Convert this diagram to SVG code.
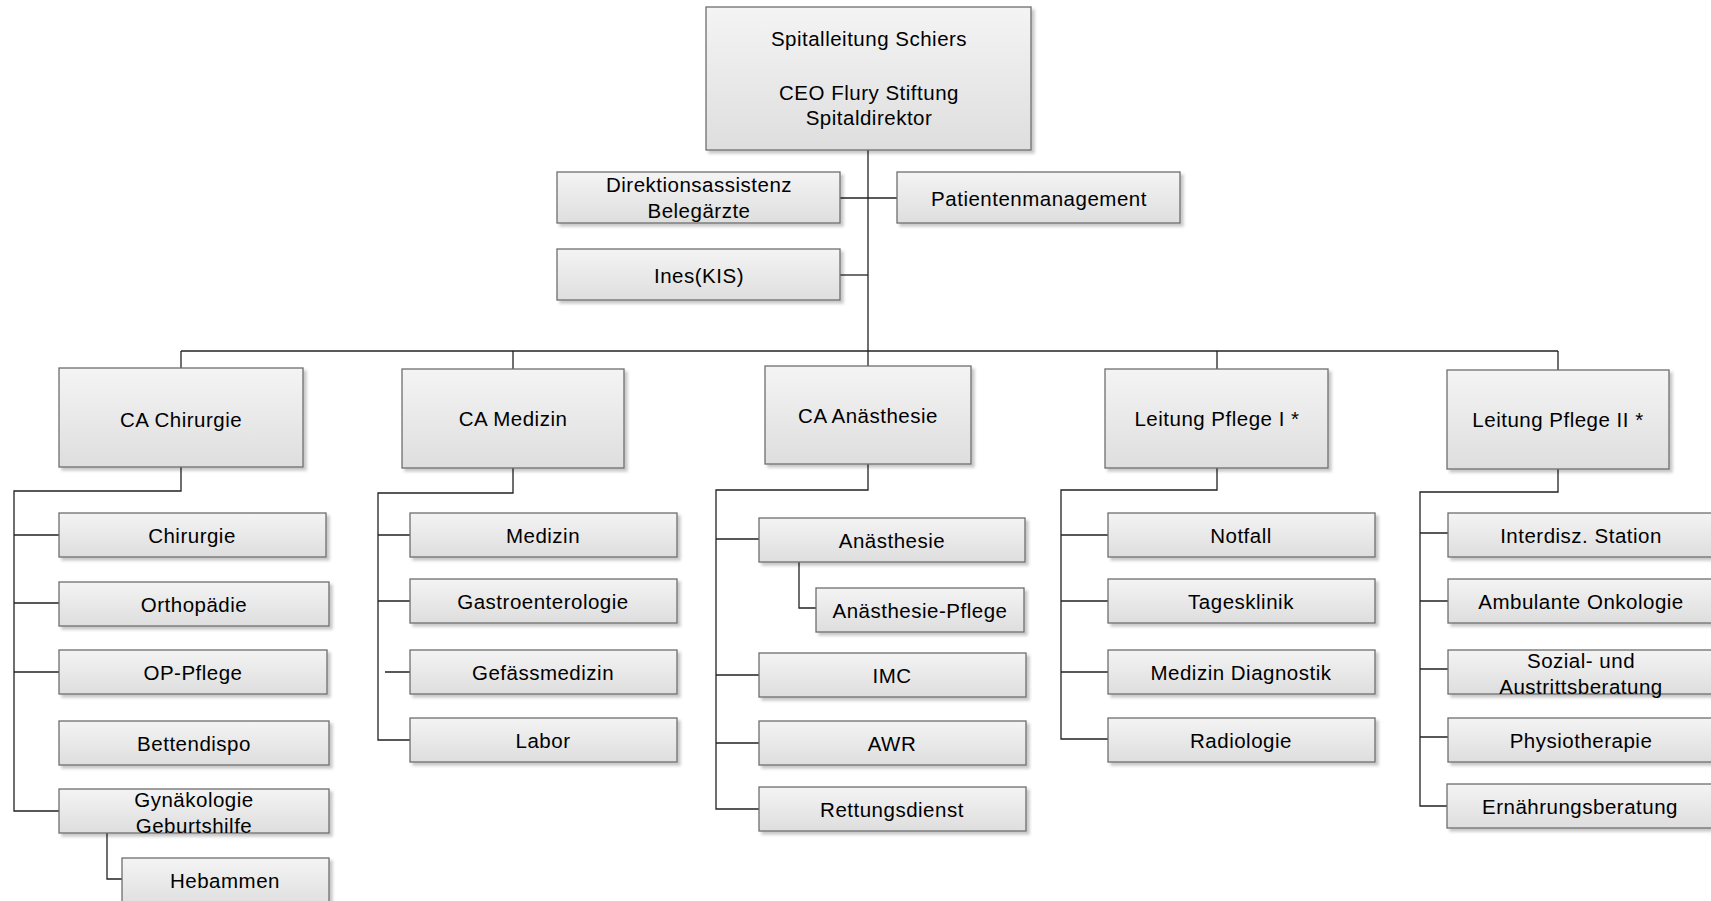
<svg xmlns="http://www.w3.org/2000/svg" width="1711" height="901" viewBox="0 0 1711 901">
<defs>
<linearGradient id="g" x1="0" y1="0" x2="0" y2="1">
<stop offset="0" stop-color="#f4f4f4"/>
<stop offset="1" stop-color="#dedede"/>
</linearGradient>
<filter id="sh" x="-5%" y="-5%" width="115%" height="130%">
<feDropShadow dx="3" dy="3" stdDeviation="1.5" flood-color="#000" flood-opacity="0.22"/>
</filter>
</defs>
<style>
.b rect{fill:url(#g);stroke:#6e6e6e;stroke-width:1.3;filter:url(#sh)}
.b text{font-family:"Liberation Sans",Arial,sans-serif;font-size:20.5px;letter-spacing:0.5px;fill:#000;text-anchor:middle;dominant-baseline:central}
#connectors path{fill:none;stroke:#222;stroke-width:1.3}
</style>
<rect width="1711" height="901" fill="#fff"/>
<g id="connectors">
<path d="M868,150 V366"/>
<path d="M840,198 H897"/>
<path d="M840,275 H868"/>
<path d="M181,351 H1558"/>
<path d="M181,351 V368"/>
<path d="M513,351 V369"/>
<path d="M1217,351 V369"/>
<path d="M1558,351 V370"/>
<path d="M181,467 V491 H14 V811 H59"/>
<path d="M14,535 H59 M14,603 H59 M14,672 H59"/>
<path d="M107,833 V879 H122"/>
<path d="M513,468 V493 H378 V740 H410"/>
<path d="M378,535 H410 M378,601 H410 M385,672 H410"/>
<path d="M868,464 V490 H716 V809 H759"/>
<path d="M716,539 H759 M716,675 H759 M716,743 H759"/>
<path d="M799,562 V608 H816"/>
<path d="M1217,468 V490 H1061 V739 H1108"/>
<path d="M1061,535 H1108 M1061,601 H1108 M1061,672 H1108"/>
<path d="M1558,469 V492 H1420 V806 H1447"/>
<path d="M1420,533 H1448 M1420,601 H1448 M1420,669 H1448 M1420,737 H1448"/>
</g>
<g id="n-top" class="b"><rect x="706" y="7" width="325" height="143"/><text x="869" y="38">Spitalleitung Schiers</text><text x="869" y="92">CEO Flury Stiftung</text><text x="869" y="117">Spitaldirektor</text></g>
<g id="n-direktion" class="b"><rect x="557" y="172" width="283" height="51"/><text x="699" y="184">Direktionsassistenz</text><text x="699" y="210">Belegärzte</text></g>
<g id="n-patienten" class="b"><rect x="897" y="172" width="283" height="51"/><text x="1039" y="198">Patientenmanagement</text></g>
<g id="n-ines" class="b"><rect x="557" y="249" width="283" height="51"/><text x="699" y="275">Ines(KIS)</text></g>
<g id="n-ca-chir" class="b"><rect x="59" y="368" width="244" height="99"/><text x="181" y="419">CA Chirurgie</text></g>
<g id="n-ca-med" class="b"><rect x="402" y="369" width="222" height="99"/><text x="513" y="418">CA Medizin</text></g>
<g id="n-ca-anae" class="b"><rect x="765" y="366" width="206" height="98"/><text x="868" y="415">CA Anästhesie</text></g>
<g id="n-pflege1" class="b"><rect x="1105" y="369" width="223" height="99"/><text x="1217" y="418">Leitung Pflege I *</text></g>
<g id="n-pflege2" class="b"><rect x="1447" y="370" width="222" height="99"/><text x="1558" y="419">Leitung Pflege II *</text></g>
<g id="n-chirurgie" class="b"><rect x="59" y="513" width="267" height="44"/><text x="192" y="535">Chirurgie</text></g>
<g id="n-ortho" class="b"><rect x="59" y="582" width="270" height="44"/><text x="194" y="604">Orthopädie</text></g>
<g id="n-op" class="b"><rect x="59" y="650" width="268" height="44"/><text x="193" y="672">OP-Pflege</text></g>
<g id="n-betten" class="b"><rect x="59" y="721" width="270" height="44"/><text x="194" y="743">Bettendispo</text></g>
<g id="n-gyn" class="b"><rect x="59" y="789" width="270" height="44"/><text x="194" y="799">Gynäkologie</text><text x="194" y="825">Geburtshilfe</text></g>
<g id="n-hebammen" class="b"><rect x="122" y="858" width="207" height="50"/><text x="225" y="880">Hebammen</text></g>
<g id="n-medizin" class="b"><rect x="410" y="513" width="267" height="44"/><text x="543" y="535">Medizin</text></g>
<g id="n-gastro" class="b"><rect x="410" y="579" width="267" height="44"/><text x="543" y="601">Gastroenterologie</text></g>
<g id="n-gefaess" class="b"><rect x="410" y="650" width="267" height="44"/><text x="543" y="672">Gefässmedizin</text></g>
<g id="n-labor" class="b"><rect x="410" y="718" width="267" height="44"/><text x="543" y="740">Labor</text></g>
<g id="n-anae" class="b"><rect x="759" y="518" width="266" height="44"/><text x="892" y="540">Anästhesie</text></g>
<g id="n-anae-pfl" class="b"><rect x="816" y="588" width="208" height="44"/><text x="920" y="610">Anästhesie-Pflege</text></g>
<g id="n-imc" class="b"><rect x="759" y="653" width="267" height="44"/><text x="892" y="675">IMC</text></g>
<g id="n-awr" class="b"><rect x="759" y="721" width="267" height="44"/><text x="892" y="743">AWR</text></g>
<g id="n-rettung" class="b"><rect x="759" y="787" width="267" height="44"/><text x="892" y="809">Rettungsdienst</text></g>
<g id="n-notfall" class="b"><rect x="1108" y="513" width="267" height="44"/><text x="1241" y="535">Notfall</text></g>
<g id="n-tages" class="b"><rect x="1108" y="579" width="267" height="44"/><text x="1241" y="601">Tagesklinik</text></g>
<g id="n-diag" class="b"><rect x="1108" y="650" width="267" height="44"/><text x="1241" y="672">Medizin Diagnostik</text></g>
<g id="n-radio" class="b"><rect x="1108" y="718" width="267" height="44"/><text x="1241" y="740">Radiologie</text></g>
<g id="n-interdisz" class="b"><rect x="1448" y="513" width="267" height="44"/><text x="1581" y="535">Interdisz. Station</text></g>
<g id="n-onko" class="b"><rect x="1448" y="579" width="267" height="44"/><text x="1581" y="601">Ambulante Onkologie</text></g>
<g id="n-sozial" class="b"><rect x="1448" y="650" width="267" height="44"/><text x="1581" y="660">Sozial- und</text><text x="1581" y="686">Austrittsberatung</text></g>
<g id="n-physio" class="b"><rect x="1448" y="718" width="267" height="44"/><text x="1581" y="740">Physiotherapie</text></g>
<g id="n-ernaehrung" class="b"><rect x="1447" y="784" width="267" height="44"/><text x="1580" y="806">Ernährungsberatung</text></g>
</svg>
